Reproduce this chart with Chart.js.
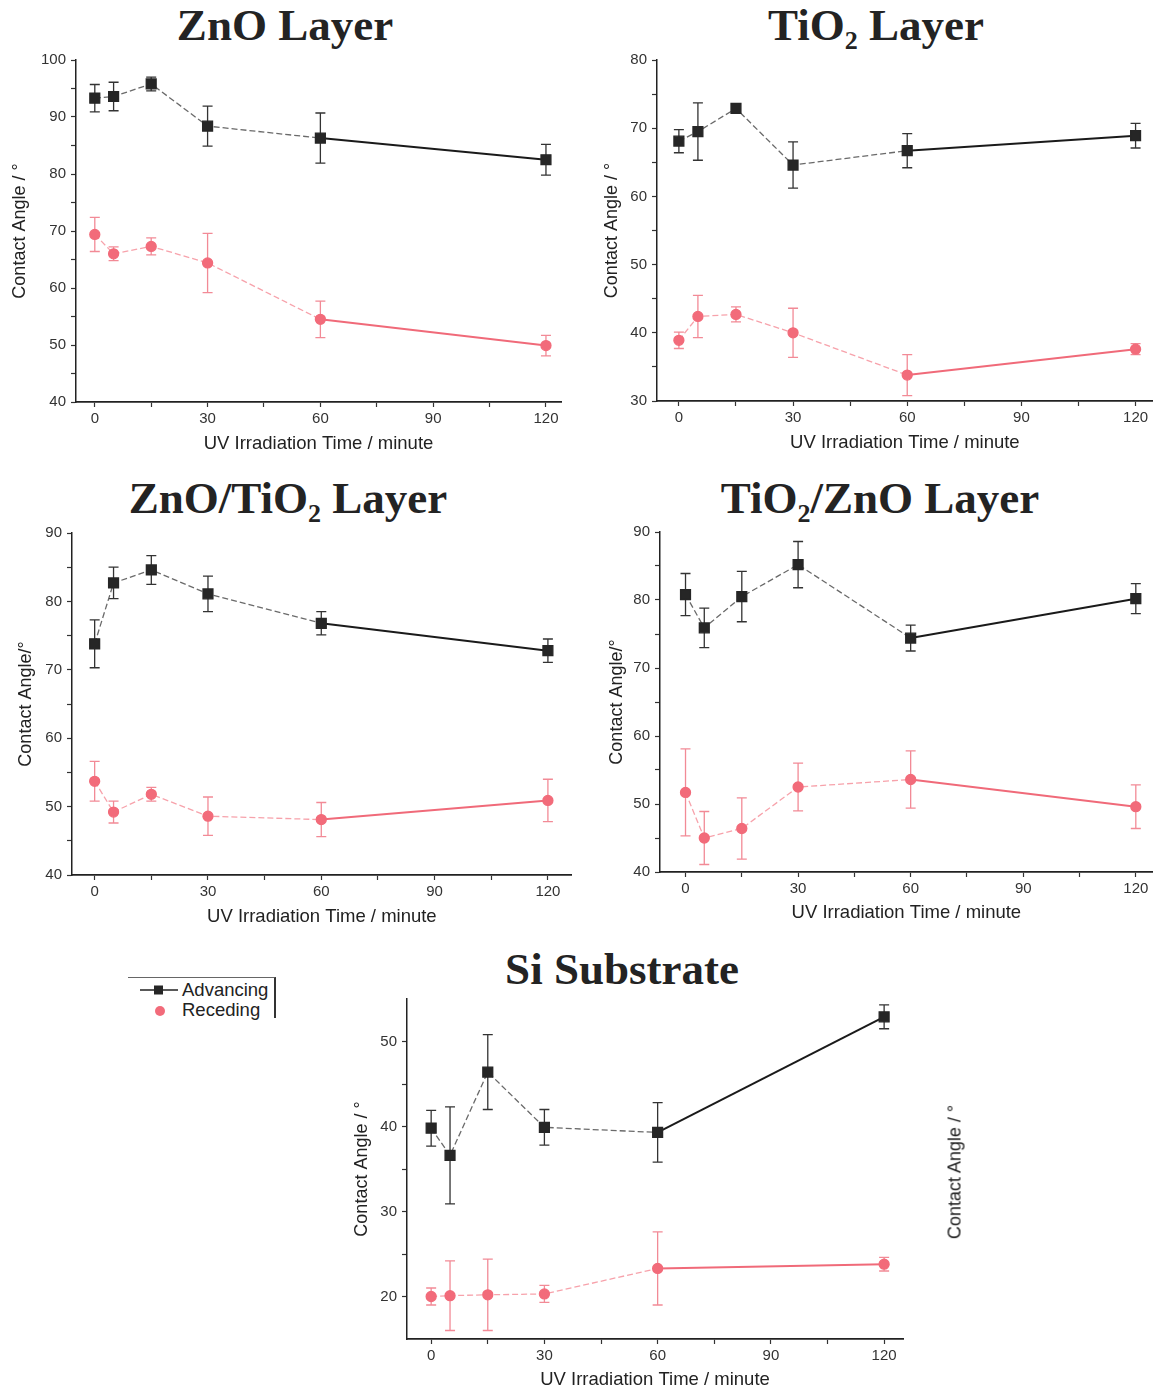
<!DOCTYPE html>
<html>
<head>
<meta charset="utf-8">
<script src="https://cdn.jsdelivr.net/npm/chart.js@4.4.0/dist/chart.umd.min.js"></script>
<style>
  body { margin: 0; background: #fff; width: 1161px; height: 1392px; position: relative; overflow: hidden;
         font-family: "Liberation Sans", Arial, sans-serif; }
  canvas { position: absolute; }
  .ttl { position: absolute; font-family: "Liberation Serif", "Times New Roman", serif; font-weight: bold;
         font-size: 45px; line-height: 44px; color: #232323; white-space: nowrap; transform: translateX(-50%); }
  .ttl .sub { font-size: 26px; position: relative; top: 9px; }
  .legend { position: absolute; left: 128px; top: 977px; width: 146px; height: 40px;
            border-top: 1px solid #666; border-right: 2px solid #333; font-size: 18.5px; color: #222; }
  .legend div { position: absolute; left: 54px; white-space: nowrap; }
  .rlabel { position: absolute; left: 955px; top: 1172px; font-size: 18px; color: #222; white-space: nowrap;
            transform: translate(-50%, -50%) rotate(-90deg); }
</style>
</head>
<body>
<div class="ttl" style="left:285px; top:3px;">ZnO Layer</div>
<div class="ttl" style="left:876px; top:3px;">TiO<span class="sub">2</span> Layer</div>
<div class="ttl" style="left:288px; top:476px;">ZnO/TiO<span class="sub">2</span> Layer</div>
<div class="ttl" style="left:880px; top:476px;">TiO<span class="sub">2</span>/ZnO Layer</div>
<div class="ttl" style="left:622px; top:947px;">Si Substrate</div>

<canvas id="c1" width="580" height="414" style="left:0; top:46px;"></canvas>
<canvas id="c2" width="581" height="414" style="left:580px; top:46px;"></canvas>
<canvas id="c3" width="580" height="414" style="left:0; top:518px;"></canvas>
<canvas id="c4" width="581" height="414" style="left:580px; top:518px;"></canvas>
<canvas id="c5" width="620" height="407" style="left:330px; top:985px;"></canvas>

<div class="legend">
  <svg width="50" height="40" style="position:absolute; left:10px; top:0;">
    <line x1="2" y1="12" x2="40" y2="12" stroke="#222" stroke-width="1.5"/>
    <rect x="16" y="7.5" width="9" height="9" fill="#262626"/>
    <circle cx="22" cy="33" r="5" fill="#f26b7a"/>
  </svg>
  <div style="top:1px;">Advancing</div>
  <div style="top:21px;">Receding</div>
</div>
<div class="rlabel">Contact Angle / °</div>

<script>
// time points (minutes)
const timeMin = [0, 5, 15, 30, 60, 120];
const xTicks = [0, 15, 30, 45, 60, 75, 90, 105, 120];

// ZnO Layer
const znoAdv = [93.3, 93.6, 95.8, 88.4, 86.3, 82.5];
const znoAdvErr = [2.4, 2.5, 1.2, 3.5, 4.4, 2.7];
const znoRec = [69.4, 66.0, 67.3, 64.4, 54.5, 49.9];
const znoRecErr = [3.0, 1.2, 1.5, 5.2, 3.2, 1.8];
const znoYTicks = [40, 45, 50, 55, 60, 65, 70, 75, 80, 85, 90, 95, 100];

// TiO2 Layer
const tioAdv = [68.1, 69.5, 72.9, 64.6, 66.7, 68.9];
const tioAdvErr = [1.7, 4.2, 0.6, 3.4, 2.5, 1.8];
const tioRec = [38.9, 42.4, 42.7, 40.0, 33.8, 37.6];
const tioRecErr = [1.2, 3.1, 1.1, 3.6, 3.0, 0.8];
const tioYTicks = [30, 35, 40, 45, 50, 55, 60, 65, 70, 75, 80];

// ZnO/TiO2 Layer
const znoTioAdv = [73.8, 82.7, 84.6, 81.1, 76.8, 72.8];
const znoTioAdvErr = [3.5, 2.3, 2.1, 2.6, 1.7, 1.7];
const znoTioRec = [53.7, 49.2, 51.8, 48.6, 48.1, 50.9];
const znoTioRecErr = [2.9, 1.6, 1.0, 2.8, 2.5, 3.1];
const znoTioYTicks = [40, 45, 50, 55, 60, 65, 70, 75, 80, 85, 90];

// TiO2/ZnO Layer
const tioZnoAdv = [80.8, 75.9, 80.5, 85.2, 74.4, 80.2];
const tioZnoAdvErr = [3.1, 2.9, 3.7, 3.4, 1.9, 2.2];
const tioZnoRec = [51.7, 45.0, 46.4, 52.5, 53.6, 49.6];
const tioZnoRecErr = [6.4, 3.9, 4.5, 3.5, 4.2, 3.2];
const tioZnoYTicks = [40, 45, 50, 55, 60, 65, 70, 75, 80, 85, 90];

// Si Substrate
const siAdv = [39.8, 36.6, 46.4, 39.9, 39.3, 52.9];
const siAdvErr = [2.1, 5.7, 4.4, 2.1, 3.5, 1.4];
const siRec = [20.0, 20.1, 20.2, 20.3, 23.3, 23.8];
const siRecErr = [1.0, 4.1, 4.2, 1.0, 4.3, 0.8];
const siYTicks = [20, 25, 30, 35, 40, 45, 50];

Chart.defaults.font.family = '"Liberation Sans", Arial, sans-serif';

// vertical error bars with caps
const errorBars = {
  id: 'errorBars',
  beforeDatasetsDraw(chart) {
    const { ctx, scales: { x, y } } = chart;
    chart.data.datasets.forEach((ds) => {
      ctx.save();
      ctx.strokeStyle = ds.errColor;
      ctx.lineWidth = 1.3;
      ds.data.forEach((p, j) => {
        const e = ds.errors[j];
        const px = x.getPixelForValue(p.x);
        const top = y.getPixelForValue(p.y + e);
        const bot = y.getPixelForValue(p.y - e);
        ctx.beginPath();
        ctx.moveTo(px, top); ctx.lineTo(px, bot);
        ctx.moveTo(px - 5, top); ctx.lineTo(px + 5, top);
        ctx.moveTo(px - 5, bot); ctx.lineTo(px + 5, bot);
        ctx.stroke();
      });
      ctx.restore();
    });
  }
};

function series(label, vals, errs, mark, solid, dashed, errColor, style, r) {
  return {
    label: label,
    data: timeMin.map((t, i) => ({ x: t, y: vals[i] })),
    errors: errs,
    errColor: errColor,
    pointStyle: style,
    pointRadius: r,
    pointBackgroundColor: mark,
    pointBorderColor: mark,
    borderColor: solid,
    borderWidth: 1.3,
    segment: {
      borderColor: c => c.p1.parsed.x > 60 ? solid : dashed,
      borderDash: c => c.p1.parsed.x > 60 ? [] : [6, 3],
      borderWidth: c => c.p1.parsed.x > 60 ? 2 : 1.3
    }
  };
}

function makeChart(id, cfg) {
  const cv = document.getElementById(id);
  const W = cv.width, H = cv.height;
  const tickFont = { size: 15 };
  return new Chart(cv, {
    type: 'line',
    data: {
      datasets: [
        series('Advancing', cfg.adv, cfg.advErr, '#262626', '#1a1a1a', '#6a6a6a', '#333', 'rect', 7),
        series('Receding', cfg.rec, cfg.recErr, '#f26b7a', '#f06a79', '#f7a2ab', '#f28a96', 'circle', 5)
      ]
    },
    options: {
      responsive: false,
      animation: false,
      layout: { padding: { top: cfg.area[1] - cfg.top, right: cfg.left + W - cfg.area[2], left: 0, bottom: 0 } },
      plugins: { legend: { display: false }, tooltip: { enabled: false } },
      scales: {
        x: {
          type: 'linear', min: cfg.xMin, max: cfg.xMax,
          afterBuildTicks: s => { s.ticks = xTicks.map(v => ({ value: v })); },
          afterFit: s => { s.height = cfg.top + H - cfg.area[3]; },
          grid: { drawOnChartArea: false, tickLength: 5, color: '#333', tickWidth: 1.2 },
          border: { display: true, color: '#222', width: 1.8 },
          ticks: { autoSkip: false, maxRotation: 0, padding: 3, color: '#333', font: tickFont,
                   callback: v => v % 30 === 0 ? v : '' },
          title: { display: true, text: 'UV Irradiation Time / minute', color: '#222', font: { size: 18.5 },
                   padding: { top: 0, bottom: cfg.xTitlePad } }
        },
        y: {
          min: cfg.yMin, max: cfg.yMax,
          afterBuildTicks: s => { s.ticks = cfg.yTicks.map(v => ({ value: v })); },
          afterFit: s => { s.width = cfg.area[0] - cfg.left; },
          grid: { drawOnChartArea: false, tickLength: 5, color: '#333', tickWidth: 1.2 },
          border: { display: true, color: '#222', width: 1.5 },
          ticks: { autoSkip: false, padding: 5, color: '#333', font: tickFont,
                   callback: v => v % 10 === 0 ? v : '' },
          title: { display: true, text: cfg.yTitle, color: '#222', font: { size: 18 },
                   padding: { top: cfg.yTitlePad, bottom: 0 } }
        }
      }
    },
    plugins: [errorBars]
  });
}

makeChart('c1', { left: 0, top: 46, area: [76, 60, 561, 402], xMin: -5, xMax: 124, yMin: 40, yMax: 100,
  yTicks: znoYTicks, adv: znoAdv, advErr: znoAdvErr, rec: znoRec, recErr: znoRecErr,
  yTitle: 'Contact Angle / °', yTitlePad: 9, xTitlePad: 5 });
makeChart('c2', { left: 580, top: 46, area: [657, 60, 1155, 401], xMin: -5.75, xMax: 124.5, yMin: 30, yMax: 80,
  yTicks: tioYTicks, adv: tioAdv, advErr: tioAdvErr, rec: tioRec, recErr: tioRecErr,
  yTitle: 'Contact Angle / °', yTitlePad: 21, xTitlePad: 6 });
makeChart('c3', { left: 0, top: 518, area: [72, 533, 575, 875], xMin: -6, xMax: 126.3, yMin: 40, yMax: 90,
  yTicks: znoTioYTicks, adv: znoTioAdv, advErr: znoTioAdvErr, rec: znoTioRec, recErr: znoTioRecErr,
  yTitle: 'Contact Angle/°', yTitlePad: 15, xTitlePad: 4 });
makeChart('c4', { left: 580, top: 518, area: [660, 532, 1160, 872], xMin: -6.8, xMax: 124.5, yMin: 40, yMax: 90,
  yTicks: tioZnoYTicks, adv: tioZnoAdv, advErr: tioZnoAdvErr, rec: tioZnoRec, recErr: tioZnoRecErr,
  yTitle: 'Contact Angle/°', yTitlePad: 26, xTitlePad: 8 });
makeChart('c5', { left: 330, top: 985, area: [407, 993, 903, 1339], xMin: -6.4, xMax: 125, yMin: 15, yMax: 55,
  yTicks: siYTicks, adv: siAdv, advErr: siAdvErr, rec: siRec, recErr: siRecErr,
  yTitle: 'Contact Angle / °', yTitlePad: 21, xTitlePad: 1 });
</script>
</body>
</html>
